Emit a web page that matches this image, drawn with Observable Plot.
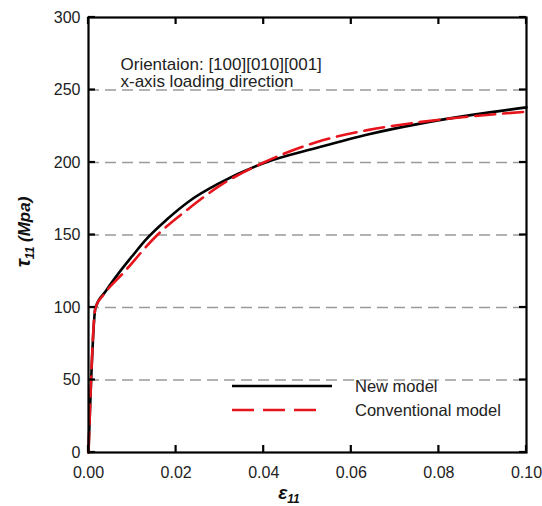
<!DOCTYPE html>
<html>
<head>
<meta charset="utf-8">
<script src="https://cdn.jsdelivr.net/npm/d3@7"></script>
<script src="https://cdn.jsdelivr.net/npm/@observablehq/plot@0.6"></script>
<style>
  html, body { margin: 0; padding: 0; background: #fff; }
  #chart { position: relative; width: 542px; height: 506px; }
</style>
</head>
<body>
<div id="chart"></div>
<script>
// ---- data ----
const newStrain = [0, 0.0016, 0.004, 0.0066, 0.01, 0.013, 0.018, 0.0233, 0.03, 0.0404, 0.052, 0.064, 0.076, 0.088, 0.1];
const newStress = [0, 100, 111.5, 122.5, 135.5, 146.5, 161, 174, 186, 200, 210, 219.5, 227, 233, 238];

const convStrain = [0, 0.0016, 0.0035, 0.008, 0.0157, 0.0228, 0.03, 0.04, 0.052, 0.064, 0.076, 0.088, 0.1];
const convStress = [0, 100, 109, 124, 150, 168, 184, 200, 214, 222.5, 228, 232, 235];

const xTicks = [0, 0.02, 0.04, 0.06, 0.08, 0.1];
const yTicks = [0, 50, 100, 150, 200, 250, 300];
const yGrid = [50, 100, 150, 200, 250];

const seriesNames = ["New model", "Conventional model"];
const noteText = "Orientaion: [100][010][001]\nx-axis loading direction";

const newData = newStrain.map((x, i) => ({x, y: newStress[i]}));
const convData = convStrain.map((x, i) => ({x, y: convStress[i]}));

const font = "'Liberation Sans', Arial, sans-serif";
const W = 542, H = 506, mL = 88, mR = 16, mT = 17, mB = 54;
const tick = 7;

const plot = Plot.plot({
  width: W,
  height: H,
  marginLeft: mL,
  marginRight: mR,
  marginTop: mT,
  marginBottom: mB,
  style: {fontFamily: font, fontSize: "16px", color: "#222", background: "#fff", overflow: "visible"},
  x: {domain: [0, 0.1]},
  y: {domain: [0, 300]},
  marks: [
    Plot.gridY(yGrid, {stroke: "#9a9a9a", strokeOpacity: 1, strokeWidth: 1.4, strokeDasharray: "11,6"}),
    Plot.axisX(xTicks, {anchor: "bottom", tickSize: 0, tickPadding: 14, tickFormat: d => d.toFixed(2), label: null, fill: "#222"}),
    Plot.axisY(yTicks, {anchor: "left", tickSize: 0, tickPadding: 8, label: null, fill: "#222"}),
    Plot.line(newData, {x: "x", y: "y", stroke: "#000", strokeWidth: 2.6, curve: "monotone-x"}),
    Plot.line(convData, {x: "x", y: "y", stroke: "#e8141b", strokeWidth: 2.6, strokeDasharray: "20,8", curve: "monotone-x"}),
    Plot.text([noteText], {frameAnchor: "top-left", dx: 32, dy: 40, fontSize: 17, lineHeight: 1.03, fill: "#222", textAnchor: "start"}),
    Plot.frame({stroke: "#000", strokeWidth: 2.2})
  ]
});

const svg = d3.select(plot);
const sx = plot.scale("x"), sy = plot.scale("y");
const x0 = sx.apply(0), x1 = sx.apply(0.1), y0 = sy.apply(0), y1 = sy.apply(300);

// inward ticks on all four sides, positioned with Plot's own scales
const tg = svg.append("g").attr("stroke", "#000").attr("stroke-width", 2.2);
xTicks.forEach(v => {
  const px = sx.apply(v);
  tg.append("line").attr("x1", px).attr("x2", px).attr("y1", y0).attr("y2", y0 - tick);
  tg.append("line").attr("x1", px).attr("x2", px).attr("y1", y1).attr("y2", y1 + tick);
});
yTicks.forEach(v => {
  const py = sy.apply(v);
  tg.append("line").attr("x1", x0).attr("x2", x0 + tick).attr("y1", py).attr("y2", py);
  tg.append("line").attr("x1", x1).attr("x2", x1 - tick).attr("y1", py).attr("y2", py);
});

// y axis title: tau_11 (Mpa)
const yl = svg.append("text")
  .attr("transform", "translate(30,232) rotate(-90)")
  .attr("text-anchor", "middle")
  .attr("font-family", font)
  .attr("font-weight", "bold")
  .attr("font-style", "italic")
  .attr("font-size", 17)
  .attr("fill", "#111");
yl.append("tspan").attr("font-size", 20).text("τ");
yl.append("tspan").attr("font-size", 12).attr("dy", 4).text("11");
yl.append("tspan").attr("dy", -4).text(" (Mpa)");

// x axis title: epsilon_11
const xl = svg.append("text")
  .attr("x", 289).attr("y", 499)
  .attr("text-anchor", "middle")
  .attr("font-family", font)
  .attr("font-weight", "bold")
  .attr("font-style", "italic")
  .attr("font-size", 19)
  .attr("fill", "#111");
xl.append("tspan").text("ε");
xl.append("tspan").attr("font-size", 12).attr("dy", 4).text("11");

// legend
const lg = svg.append("g").attr("font-family", font).attr("font-size", 16.5).attr("fill", "#222").attr("text-anchor", "start");
lg.append("line").attr("x1", 232).attr("x2", 332).attr("y1", 386).attr("y2", 386)
  .attr("stroke", "#000").attr("stroke-width", 2.6);
lg.append("line").attr("x1", 232).attr("x2", 324).attr("y1", 410).attr("y2", 410)
  .attr("stroke", "#e8141b").attr("stroke-width", 2.6).attr("stroke-dasharray", "22,9");
lg.append("text").attr("x", 355).attr("y", 386).attr("dy", "0.35em").text(seriesNames[0]);
lg.append("text").attr("x", 355).attr("y", 410).attr("dy", "0.35em").text(seriesNames[1]);

document.getElementById("chart").appendChild(plot);
</script>
</body>
</html>
